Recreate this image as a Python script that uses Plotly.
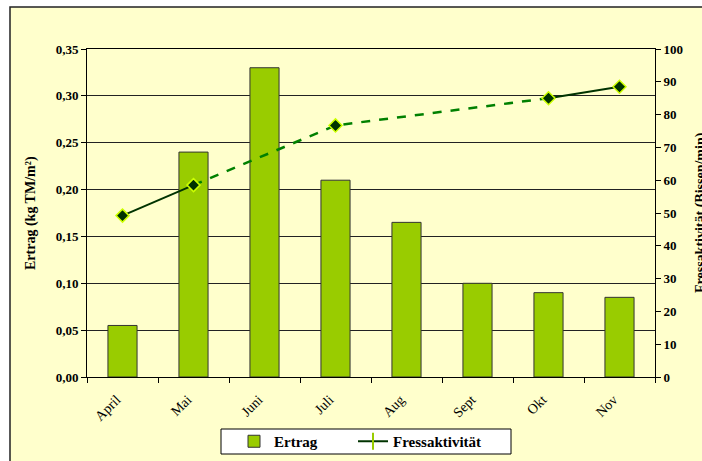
import plotly.graph_objects as go

# Monthly yield and feeding activity
months = ["April", "Mai", "Juni", "Juli", "Aug", "Sept", "Okt", "Nov"]
ertrag = [0.055, 0.24, 0.33, 0.21, 0.165, 0.10, 0.09, 0.085]
fress = [49.2, 58.5, None, 76.7, None, None, 85.0, 88.5]

FONT = "Liberation Serif"
BAR_GREEN = "#99CC00"
DARK_GREEN = "#003300"
DASH_GREEN = "#008000"

W, H = 702, 461
L, R, T, B = 87, 47, 49, 84
PW, PH = W - L - R, H - T - B


def px_x(x):
    return (x - L) / PW


def px_y(y):
    return (H - B - y) / PH


fig = go.Figure()

fig.add_trace(go.Bar(
    x=months, y=ertrag, name="Ertrag",
    marker=dict(color=BAR_GREEN, line=dict(color="#333333", width=1)),
    yaxis="y", legend="legend",
))

# measured points (months with a value)
pts = [(m, v) for m, v in zip(months, fress) if v is not None]
mx = [p[0] for p in pts]
my = [p[1] for p in pts]

# solid segments at the ends, dashed connection across missing months
fig.add_trace(go.Scatter(
    x=mx[:2], y=my[:2], mode="lines", yaxis="y2", showlegend=False,
    line=dict(color=DARK_GREEN, width=2), hoverinfo="skip",
))
fig.add_trace(go.Scatter(
    x=mx[1:4], y=my[1:4], mode="lines", yaxis="y2", showlegend=False,
    line=dict(color=DASH_GREEN, width=2.5, dash="dash"), hoverinfo="skip",
))
fig.add_trace(go.Scatter(
    x=mx[3:], y=my[3:], mode="lines", yaxis="y2", showlegend=False,
    line=dict(color=DARK_GREEN, width=2), hoverinfo="skip",
))
fig.add_trace(go.Scatter(
    x=mx, y=my, mode="markers", yaxis="y2", showlegend=False,
    marker=dict(symbol="diamond", size=10, color=DARK_GREEN,
                line=dict(color="#CCFF00", width=1.5)),
))
# legend entry for the feeding activity series
fig.add_trace(go.Scatter(
    x=[None], y=[None], mode="lines+markers", name="Fressaktivität", yaxis="y2",
    legend="legend2",
    line=dict(color=DARK_GREEN, width=2),
    marker=dict(symbol="line-ns", size=12, color="#99CC00",
                line=dict(color="#99CC00", width=2)),
))

tickfont = dict(family=FONT, size=13, color="black", weight="bold")
legfont = dict(family=FONT, size=15, color="black", weight="bold")
titlefont = dict(family=FONT, size=14, color="black", weight="bold")

leg_common = dict(
    orientation="h", xref="container", yref="container",
    xanchor="left", yanchor="middle", y=1 - 441.5 / H,
    bgcolor="rgba(0,0,0,0)", borderwidth=0, itemwidth=30, font=legfont,
)

fig.update_layout(
    width=W, height=H,
    margin=dict(l=L, r=R, t=T, b=B, autoexpand=False),
    paper_bgcolor="white",
    plot_bgcolor="white",
    bargap=0.59,
    font=dict(family=FONT, size=13, color="black", weight="bold"),
    xaxis=dict(
        type="category", tickangle=-45, automargin=False,
        tickfont=dict(family=FONT, size=14, color="black", weight="normal"),
        ticklabelstandoff=8, ticklabelshift=-6,
        showline=True, linecolor="black", linewidth=1, mirror=True,
        ticks="outside", ticklen=5, tickcolor="black", tickson="boundaries",
        showgrid=False, range=[-0.5, 7.5],
    ),
    yaxis=dict(
        range=[0, 0.35], dtick=0.05, tickformat=".2f", tickfont=tickfont,
        showline=True, linecolor="black", linewidth=1, automargin=False,
        ticks="outside", ticklen=5, tickcolor="black",
        showgrid=True, gridcolor="#222222", gridwidth=1,
        zeroline=False,
    ),
    yaxis2=dict(
        range=[0, 100], dtick=10, overlaying="y", side="right", tickfont=tickfont,
        showline=True, linecolor="black", linewidth=1, automargin=False,
        ticks="outside", ticklen=5, tickcolor="black",
        showgrid=False, zeroline=False,
    ),
    separators=", ",
    legend=dict(x=234 / W, **leg_common),
    legend2=dict(x=353 / W, **leg_common),
    shapes=[
        # chart area frame
        dict(type="rect", xref="paper", yref="paper", layer="below",
             x0=px_x(10), x1=px_x(720), y0=px_y(475), y1=px_y(7),
             fillcolor="#FFFFCC", line=dict(color="#222222", width=1.5)),
        # legend frame
        dict(type="rect", xref="paper", yref="paper", layer="below",
             x0=px_x(221), x1=px_x(511), y0=px_y(454), y1=px_y(429),
             fillcolor="white", line=dict(color="black", width=1)),
    ],
    annotations=[
        dict(text="Ertrag (kg TM/m²)", textangle=-90, xref="paper", yref="paper",
             x=px_x(31), y=0.5, xanchor="center", yanchor="middle",
             showarrow=False, font=titlefont),
        dict(text="Fressaktivität (Bissen/min)", textangle=-90, xref="paper", yref="paper",
             x=px_x(701), y=0.5, xanchor="center", yanchor="middle",
             showarrow=False, font=titlefont),
    ],
)

fig.write_html("out.html")
